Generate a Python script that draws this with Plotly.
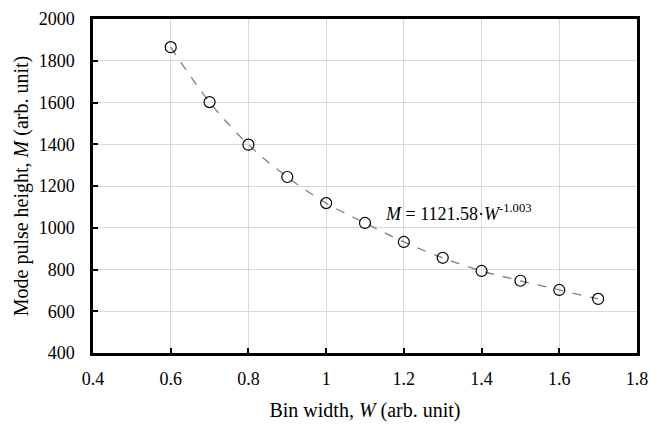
import plotly.graph_objects as go

bin_width = [0.6, 0.7, 0.8, 0.9, 1.0, 1.1, 1.2, 1.3, 1.4, 1.5, 1.6, 1.7]
mode_height = [1865, 1602, 1398, 1243, 1118, 1023, 932, 856, 793, 746, 702, 659]

x_ticks = [0.4, 0.6, 0.8, 1.0, 1.2, 1.4, 1.6, 1.8]
x_tick_labels = ["0.4", "0.6", "0.8", "1", "1.2", "1.4", "1.6", "1.8"]
y_ticks = [400, 600, 800, 1000, 1200, 1400, 1600, 1800, 2000]

FONT = "Liberation Serif"

fig = go.Figure()
fig.add_trace(go.Scatter(
    x=bin_width, y=mode_height, mode="lines",
    line=dict(color="#7f7f7f", width=1.3, dash="dash", shape="spline", smoothing=1.0),
    hoverinfo="skip", showlegend=False))
fig.add_trace(go.Scatter(
    x=bin_width, y=mode_height, mode="markers",
    marker=dict(symbol="circle-open", size=11, color="black", line=dict(width=1.2, color="black")),
    showlegend=False))

fig.add_annotation(
    x=1.146, y=1071, xref="x", yref="y", xanchor="left", yanchor="middle",
    text="<i>M</i> = 1121.58·<i>W</i><sup>-1.003</sup>",
    showarrow=False, font=dict(family=FONT, size=18, color="black"))

axis_common = dict(
    showline=True, linecolor="black", linewidth=2.5, mirror=True,
    showgrid=True, gridcolor="#d9d9d9", gridwidth=1.3,
    ticks="inside", ticklen=5, tickcolor="black", tickwidth=1.5,
    zeroline=False, automargin=False,
    tickfont=dict(family=FONT, size=18, color="black"),
)

fig.update_xaxes(
    range=[0.4, 1.8], tickvals=x_ticks, ticktext=x_tick_labels,
    title=dict(text="Bin width, <i>W</i> (arb. unit)", font=dict(family=FONT, size=20, color="black"), standoff=15),
    ticklabelstandoff=8, **axis_common)
fig.update_yaxes(
    range=[400, 2000], tickvals=y_ticks,
    title=dict(text="Mode pulse height, <i>M</i> (arb. unit)", font=dict(family=FONT, size=20, color="black"), standoff=5),
    ticklabelstandoff=12, **axis_common)

fig.update_layout(
    width=663, height=424,
    margin=dict(l=85, r=34, t=11, b=79),
    plot_bgcolor="white", paper_bgcolor="white",
    font=dict(family=FONT, color="black"),
)

fig.write_html("out.html")
